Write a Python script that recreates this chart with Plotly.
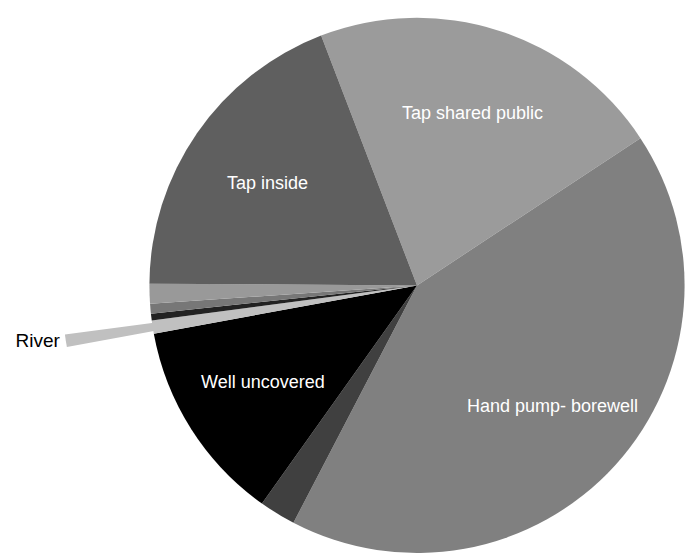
import math
import plotly.graph_objects as go

# ---- data ----
labels = ["Tap shared public", "Hand pump- borewell", "Well covered", "Well uncovered",
          "River", "Pond", "Tanker", "Other", "Tap inside"]
values = [21.6, 42.0, 2.2, 12.3, 0.8, 0.4, 0.6, 1.2, 19.1]
shown_inside = ["Tap shared public", "Hand pump- borewell", "Well uncovered", "Tap inside"]
exploded = "River"

# ---- styles ----
colors = ["#9b9b9b", "#808080", "#404040", "#000000",
          "#c0c0c0", "#222222", "#777777", "#999999", "#5f5f5f"]
FONT = "Liberation Sans, Arial, sans-serif"
W, H = 687, 558
ROT = 339

# main pie geometry (pixels)
cx, cy, r = 417.0, 288.0, 270.0
main_dom_x = [(cx - r) / W, (cx + r) / W]
main_dom_y = [(H - (cy + r)) / H, (H - (cy - r)) / H]

# slice bisector angles (clockwise from 12 o'clock), derived from the values
tot = sum(values)
mids = {}
start = ROT
for lab, v in zip(labels, values):
    ang = v / tot * 360
    mids[lab] = math.radians(start + ang / 2)
    start += ang

# exploded slice: a second pie (same data) whose centre is shifted along the slice bisector
mid = mids[exploded]
d = 104.0
ecx = cx + d * math.sin(mid)
ecy = cy - d * math.cos(mid)
er = min(H - ecy, ecy, ecx, W - ecx)
exp_dom_x = [(ecx - er) / W, (ecx + er) / W]
exp_dom_y = [(H - (ecy + er)) / H, (H - (ecy - er)) / H]

main = go.Pie(
    labels=labels, values=values, sort=False, direction="clockwise", rotation=ROT,
    marker=dict(colors=colors, line=dict(width=0)),
    textinfo="none",
    domain=dict(x=main_dom_x, y=main_dom_y), showlegend=False, hoverinfo="label+percent",
)

exp = go.Pie(
    labels=labels, values=values, sort=False, direction="clockwise", rotation=ROT,
    marker=dict(colors=[c if l == exploded else "rgba(0,0,0,0)" for l, c in zip(labels, colors)],
                line=dict(width=0)),
    text=[l if l == exploded else "" for l in labels],
    textinfo="text",
    textposition=["outside" if l == exploded else "none" for l in labels],
    outsidetextfont=dict(family=FONT, size=19, color="black"),
    domain=dict(x=exp_dom_x, y=exp_dom_y), showlegend=False, hoverinfo="skip",
)

fig = go.Figure([main, exp])

# inside data labels on the slice bisectors (Excel-style placement)
LABEL_R = 0.675
for lab in shown_inside:
    a = mids[lab]
    px = cx + LABEL_R * r * math.sin(a)
    py = cy - LABEL_R * r * math.cos(a)
    fig.add_annotation(x=px / W, y=1 - py / H, xref="paper", yref="paper", text=lab,
                       showarrow=False, xanchor="center", yanchor="middle",
                       font=dict(family=FONT, size=18, color="white"))

fig.update_layout(
    width=W, height=H, margin=dict(l=0, r=0, t=0, b=0),
    paper_bgcolor="white", plot_bgcolor="white",
    font=dict(family=FONT),
)
fig.write_html("out.html", config={"displayModeBar": False},
               post_script="document.body.style.margin='0';")
